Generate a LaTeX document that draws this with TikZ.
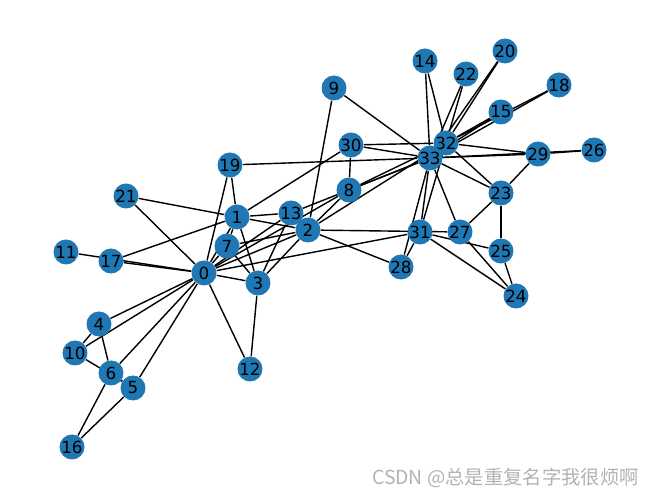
\documentclass[tikz,border=0pt]{standalone}
\usepackage{fontspec}
\setmainfont{DejaVu Sans}
\newfontfamily\cjkfont{Noto Sans CJK SC}
\usetikzlibrary{backgrounds}
\definecolor{nxblue}{HTML}{1F77B4}

\begin{document}
\begin{tikzpicture}[x=0.02cm, y=-0.02cm,
  vert/.style={fill=nxblue, circle, inner sep=0pt, minimum size=0.5cm,
    font=\fontsize{9.5}{10}\selectfont},
  edge/.style={line width=0.8pt, black}]
\useasboundingbox (0,0) rectangle (660,499);

% Place the 34 club members
\foreach \i/\x/\y in {0/204/273, 1/237/217, 2/308/230, 3/258/283, 4/99/324,
  5/133/388, 6/111/373, 7/227/246, 8/349/190, 9/334/88, 10/75/353,
  11/66/252, 12/250/369, 13/291/213, 14/425/61, 15/501/112, 16/72/447,
  17/111/261, 18/559/85, 19/230/165, 20/505/51, 21/126/196, 22/466/74,
  23/501/193, 24/516/296, 25/501/251, 26/594/150, 27/460/232, 28/401/267,
  29/538/154, 30/351/145, 31/420/232, 32/446/143, 33/430/158} {
    \node[vert] (v\i) at (\x,\y) {\i};
}

% Friendships
\begin{pgfonlayer}{background}
\foreach \a/\b in {0/1, 0/2, 0/3, 0/4, 0/5, 0/6, 0/7, 0/8, 0/10, 0/11,
  0/12, 0/13, 0/17, 0/19, 0/21, 0/31, 1/2, 1/3, 1/7, 1/13, 1/17, 1/19,
  1/21, 1/30, 2/3, 2/7, 2/8, 2/9, 2/13, 2/27, 2/28, 2/32, 3/7, 3/12,
  3/13, 4/6, 4/10, 5/6, 5/10, 5/16, 6/16, 8/30, 8/32, 8/33, 9/33, 13/33,
  14/32, 14/33, 15/32, 15/33, 18/32, 18/33, 19/33, 20/32, 20/33, 22/32,
  22/33, 23/25, 23/27, 23/29, 23/32, 23/33, 24/25, 24/27, 24/31, 25/31,
  26/29, 26/33, 27/33, 28/31, 28/33, 29/32, 29/33, 30/32, 30/33, 31/32,
  31/33, 32/33} {
    \draw[edge] (v\a) -- (v\b);
}
\end{pgfonlayer}

% Watermark
\node[anchor=east, text=black!30, font=\cjkfont\fontsize{11}{12}\selectfont]
  (mark) at (645,478) {CSDN @总是重复名字我很烦啊};
\end{tikzpicture}
\end{document}
